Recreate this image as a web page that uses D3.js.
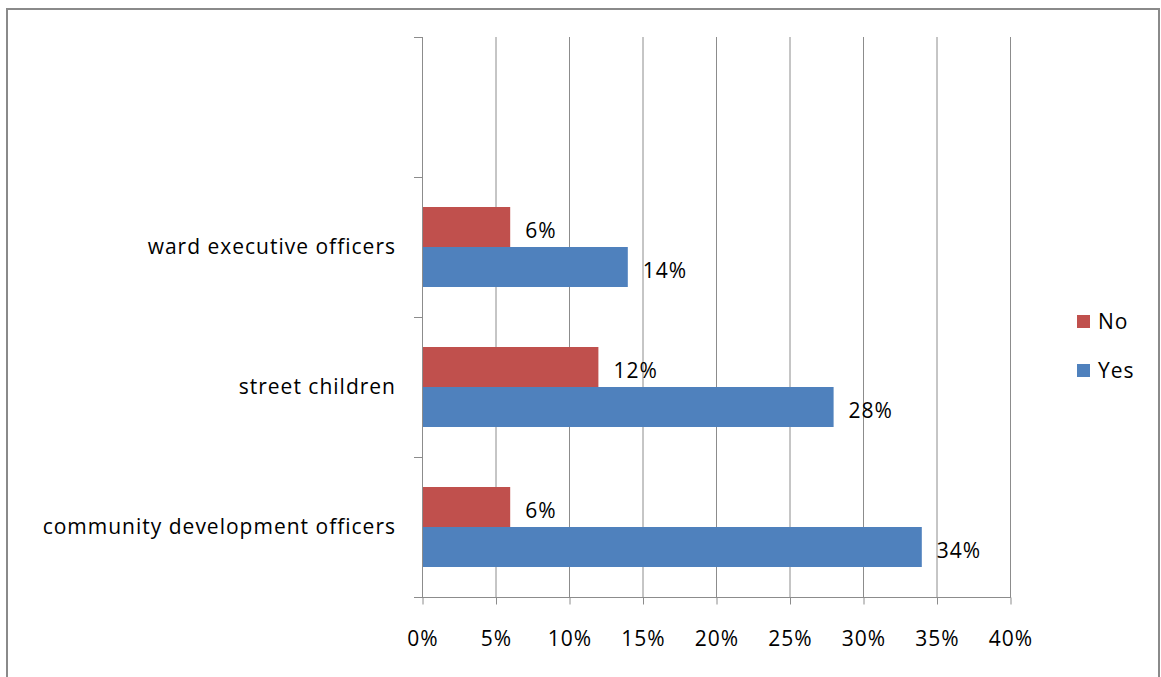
<!DOCTYPE html>
<html>
<head>
<meta charset="utf-8">
<script src="https://cdn.jsdelivr.net/npm/d3@7"></script>
<style>
  body { margin: 0; background: #fff; }
  text { font-family: "Open Sans", sans-serif; fill: #000; letter-spacing: 1px; }
</style>
</head>
<body>
<div id="chart"></div>
<script>
// categories from top to bottom (Excel leaves an empty slot on top)
const categories = ["", "ward executive officers", "street children", "community development officers"];
const noValues = [null, 6, 12, 6];
const yesValues = [null, 14, 28, 34];
const xTicks = [0, 5, 10, 15, 20, 25, 30, 35, 40];
const seriesNames = ["No", "Yes"];
const seriesColors = ["#C0504D", "#4F81BD"];

const W = 1161, H = 677;
const plot = { left: 422, right: 1010, top: 37, bottom: 597 };
const fs = 21;

const svg = d3.select("#chart").append("svg")
  .attr("width", W)
  .attr("height", H);

// outer frame
svg.append("rect")
  .attr("x", 7).attr("y", 9)
  .attr("width", 1152).attr("height", 700)
  .attr("fill", "none")
  .attr("stroke", "#8a8a8a")
  .attr("stroke-width", 2);

const x = d3.scaleLinear().domain([0, 40]).range([plot.left, plot.right]);
const y = d3.scaleBand().domain(categories).range([plot.top, plot.bottom]);
const sub = d3.scaleBand().domain(seriesNames).range([0, 80]);
const barOffset = (y.bandwidth() - 80) / 2;

// vertical gridlines
svg.append("g")
  .selectAll("line")
  .data(xTicks)
  .join("line")
  .attr("x1", d => x(d) + 0.5).attr("x2", d => x(d) + 0.5)
  .attr("y1", plot.top).attr("y2", plot.bottom)
  .attr("stroke", "#8c8c8c")
  .attr("stroke-width", 1);

// bottom axis
const xAxis = svg.append("g")
  .attr("transform", `translate(0.5,${plot.bottom + 0.5})`)
  .call(d3.axisBottom(x).tickValues(xTicks).tickFormat(d => d + "%").tickSize(7).tickPadding(27));
xAxis.select(".domain").remove();
xAxis.selectAll("line").attr("stroke", "#8c8c8c");
xAxis.selectAll("text").attr("font-size", fs).attr("font-family", "Open Sans, sans-serif").attr("fill", "#000");
svg.append("line")
  .attr("x1", plot.left - 8).attr("x2", plot.right + 1)
  .attr("y1", plot.bottom + 0.5).attr("y2", plot.bottom + 0.5)
  .attr("stroke", "#8c8c8c");

// left axis with ticks at band edges
const edges = categories.map(c => y(c)).concat([plot.bottom]);
svg.append("g")
  .selectAll("line")
  .data(edges)
  .join("line")
  .attr("x1", plot.left - 8).attr("x2", plot.left)
  .attr("y1", d => d + 0.5).attr("y2", d => d + 0.5)
  .attr("stroke", "#8c8c8c");

// category labels
svg.append("g")
  .selectAll("text")
  .data(categories)
  .join("text")
  .attr("x", 396)
  .attr("y", d => y(d) + y.bandwidth() / 2)
  .attr("dy", "0.35em")
  .attr("text-anchor", "end")
  .attr("font-size", fs)
  .text(d => d);

// bars
const rows = [];
categories.forEach((c, i) => {
  if (noValues[i] != null) rows.push({ cat: c, s: "No", v: noValues[i], color: seriesColors[0] });
  if (yesValues[i] != null) rows.push({ cat: c, s: "Yes", v: yesValues[i], color: seriesColors[1] });
});

svg.append("g")
  .selectAll("rect")
  .data(rows)
  .join("rect")
  .attr("x", x(0) + 1)
  .attr("y", d => y(d.cat) + barOffset + sub(d.s))
  .attr("width", d => x(d.v) - x(0) - 1)
  .attr("height", sub.bandwidth())
  .attr("fill", d => d.color);

// value labels
svg.append("g")
  .selectAll("text")
  .data(rows)
  .join("text")
  .attr("x", d => x(d.v) + 15)
  .attr("y", d => y(d.cat) + barOffset + sub(d.s) + sub.bandwidth() / 2 + 4)
  .attr("dy", "0.35em")
  .attr("font-size", fs)
  .text(d => d.v + "%");

// legend
const legend = svg.append("g")
  .selectAll("g")
  .data(seriesNames)
  .join("g")
  .attr("transform", (d, i) => `translate(1077,${315 + i * 49})`);
legend.append("rect")
  .attr("width", 13).attr("height", 13)
  .attr("fill", (d, i) => seriesColors[i]);
legend.append("text")
  .attr("x", 21).attr("y", 7)
  .attr("dy", "0.35em")
  .attr("font-size", fs)
  .text(d => d);
</script>
</body>
</html>
